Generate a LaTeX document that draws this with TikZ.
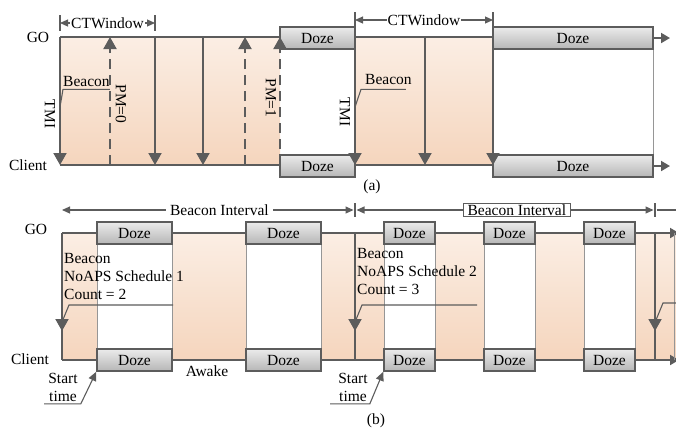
\documentclass[tikz,border=0pt]{standalone}
\usepackage{fontspec}
\setmainfont{Liberation Serif}
\usetikzlibrary{arrows.meta}
\definecolor{linegray}{RGB}{92,92,92}
\definecolor{thingray}{RGB}{150,150,150}
\definecolor{peachtop}{RGB}{251,238,228}
\definecolor{peachbot}{RGB}{245,213,189}
\definecolor{dozetop}{RGB}{235,235,235}
\definecolor{dozebot}{RGB}{182,182,182}

\begin{document}
\begin{tikzpicture}[x=1pt,y=-1pt,
    font=\fontsize{15.5}{18}\selectfont,
    sigline/.style={draw=linegray,line width=1.9pt},
    thinline/.style={draw=thingray,line width=0.9pt},
    sig/.style={sigline,-{Triangle[length=12pt,width=13pt]}},
    pmsig/.style={sig,dash pattern=on 10pt off 6pt},
    tip/.style={-{Triangle[length=9pt,width=10pt]}},
    dimline/.style={draw=linegray,line width=1.1pt,{Triangle[length=8pt,width=7pt]}-{Triangle[length=8pt,width=7pt]}},
    awake/.style={top color=peachtop,bottom color=peachbot},
    dozebox/.style={draw=linegray,line width=1.5pt,top color=dozetop,bottom color=dozebot,minimum height=22pt,inner sep=0pt},
    leader/.style={draw=linegray,line width=1.1pt},
    lbl/.style={inner sep=0pt}]
    \useasboundingbox (0,0) rectangle (676,432);

    % ---------- (a) ----------
    \foreach \n/\x in {1/60,2/110,3/155,4/203,5/245,6/280,7/355,8/425,9/493,10/653}{
        \coordinate (ga\n) at (\x,37);
        \coordinate (ca\n) at (\x,165);
    }
    \path[awake] (ga1) rectangle (ca6);
    \path[awake] (ga7) rectangle (ca9);
    \draw[sigline] (ga1) -- (ga6) (ca1) -- (ca6) (ga7) -- (ga9) (ca7) -- (ca9);
    \draw[thinline] (ga10) -- (ca10);

    \node[dozebox,minimum width=75pt] (dzga1) at (317.5,38) {Doze};
    \node[dozebox,minimum width=75pt] (dzca1) at (317.5,166) {Doze};
    \node[dozebox,minimum width=160pt] (dzga2) at (573,38) {Doze};
    \node[dozebox,minimum width=160pt] (dzca2) at (573,166) {Doze};
    \coordinate (enda1) at (670,38);
    \coordinate (enda2) at (670,166);
    \draw[sigline,tip] (dzga2.east) -- (enda1);
    \draw[sigline,tip] (dzca2.east) -- (enda2);

    \foreach \n in {1,3,4,7,8,9} \draw[sig] (ga\n) -- (ca\n);
    \foreach \n in {2,5,6} \draw[pmsig] (ca\n) -- (ga\n);

    % CTWindow spans
    \foreach \n/\xl/\xr/\y in {1/60/155/23,2/355/493/20}{
        \coordinate (cwl\n) at (\xl,\y);
        \coordinate (cwr\n) at (\xr,\y);
        \draw[leader] ([yshift=8pt]cwl\n) -- ([yshift=-8pt]cwl\n);
        \draw[leader] ([yshift=8pt]cwr\n) -- ([yshift=-8pt]cwr\n);
        \draw[dimline] (cwl\n) -- node[fill=white,inner sep=1pt] (cwt\n) {CTWindow} (cwr\n);
    }

    \node (goa) at (38,37) {GO};
    \node (cla) at (28,165) {Client};
    \node[rotate=-90] (tmia1) at (50,114) {TMI};
    \node[rotate=-90] (tmia2) at (345,112) {TMI};
    \node[rotate=-90] (pma0) at (121,104) {PM=0};
    \node[rotate=-90] (pma1) at (271,98) {PM=1};

    \coordinate (bca1) at (60,107);
    \coordinate (bca2) at (355,107);
    \node[lbl,anchor=base west] (bcna1) at (63,86) {Beacon};
    \node[lbl,anchor=base west] (bcna2) at (365,84) {Beacon};
    \draw[leader] (bca1) -- ([yshift=-3pt]bcna1.south west) -- ([yshift=-3pt]bcna1.south east);
    \draw[leader] (bca2) -- ([xshift=-4pt,yshift=-5pt]bcna2.south west) -- ([xshift=-6pt,yshift=-5pt]bcna2.south east);

    \node (capa) at (372,187) {(a)};

    % ---------- (b) ----------
    \foreach \n/\x in {1/62,2/355,3/655,4/674}{
        \coordinate (gb\n) at (\x,233);
        \coordinate (cb\n) at (\x,360);
        \coordinate (mb\n) at (\x,331);
    }
    \coordinate (gbend) at (679,233);
    \coordinate (cbend) at (679,360);
    \path[awake] (gb1) rectangle (cbend);
    \foreach \n/\xl/\xr in {1/97/172,2/246/321,3/384/435,4/484/535,5/584/635}{
        \fill[white] (\xl,233) rectangle (\xr,360);
        \draw[thinline] (\xl,233) -- (\xl,360) (\xr,233) -- (\xr,360);
    }
    \draw[sigline,tip] (gb1) -- (gbend);
    \draw[sigline,tip] (cb1) -- (cbend);
    \foreach \n/\xl/\xr in {1/97/172,2/246/321,3/384/435,4/484/535,5/584/635}{
        \node[dozebox,minimum width={(\xr-\xl)*1pt}] (dzgb\n) at ({(\xl+\xr)/2},233) {Doze};
        \node[dozebox,minimum width={(\xr-\xl)*1pt}] (dzcb\n) at ({(\xl+\xr)/2},360) {Doze};
    }
    \foreach \n in {1,2,3}{
        \draw[sigline] (gb\n) -- (cb\n);
        \draw[sig] (gb\n) -- (mb\n);
    }
    \draw[thinline] (gb4) -- (cb4);

    % Beacon Interval spans
    \foreach \n/\x in {1/62,2/355,3/655,4/681}
        \coordinate (bi\n) at (\x,210);
    \draw[leader] ([yshift=7pt]bi2) -- ([yshift=-7pt]bi2);
    \draw[leader] ([yshift=7pt]bi3) -- ([yshift=-7pt]bi3);
    \draw[dimline] (bi1) -- node[pos=0.54,fill=white,inner xsep=4pt,inner ysep=1pt] (bit1) {Beacon Interval} ([xshift=-1.5pt]bi2);
    \draw[dimline] ([xshift=1.5pt]bi2) -- node[pos=0.54,fill=white,draw=linegray,line width=1.1pt,inner xsep=4pt,inner ysep=1pt] (bit2) {Beacon Interval} ([xshift=-1.5pt]bi3);
    \draw[dimline,-] ([xshift=1.5pt]bi3) -- (bi4);

    \node (gob) at (36,229) {GO};
    \node (clb) at (30,359) {Client};

    \node[lbl,anchor=north west,align=left] (bcnb1) at (64,253) {Beacon\\NoAPS Schedule 1\\Count = 2};
    \node[lbl,anchor=north west,align=left] (bcnb2) at (357,248) {Beacon\\NoAPS Schedule 2\\Count = 3};
    \coordinate (ldb1) at (62,322);
    \coordinate (ldb2) at (355,322);
    \coordinate (ldb3) at (656,320);
    \draw[leader] (ldb1) -- ++(7,-17) -- ++(104,0);
    \draw[leader] (ldb2) -- ++(7,-17) -- ++(115,0);
    \draw[leader] (ldb3) -- ++(7,-17) -- ++(15,0);

    \node (awk) at (207,371) {Awake};

    \node[lbl,align=center,anchor=north] (stb1) at (63,373) {Start\\time};
    \node[lbl,align=center,anchor=north] (stb2) at (353,373) {Start\\time};
    \draw[leader,-{Triangle[length=9pt,width=8pt]}] ([xshift=-4pt,yshift=-2pt]stb1.south west) -- ([xshift=3pt,yshift=-2pt]stb1.south east) -- (dzcb1.south west);
    \draw[leader,-{Triangle[length=9pt,width=8pt]}] ([xshift=-8pt,yshift=-2pt]stb2.south west) -- ([xshift=2pt,yshift=-2pt]stb2.south east) -- (dzcb3.south west);

    \node (capb) at (376,421) {(b)};
\end{tikzpicture}
\end{document}
